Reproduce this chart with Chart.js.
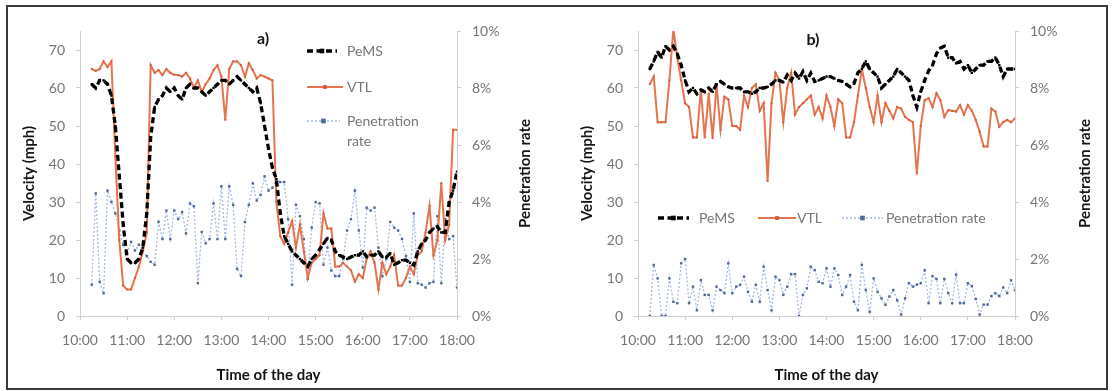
<!DOCTYPE html>
<html>
<head>
<meta charset="utf-8">
<script src="https://cdn.jsdelivr.net/npm/chart.js@4.4.1/dist/chart.umd.min.js"></script>
<style>
html,body{margin:0;padding:0;background:#fff;}
#wrap{position:relative;width:1115px;height:391px;overflow:hidden;background:#fff;}
#frame{position:absolute;left:6px;top:5px;width:1102px;height:385px;border:2px solid #3a3a3a;box-sizing:border-box;pointer-events:none;}
canvas{position:absolute;top:0;}
#cA{left:0;}
#cB{left:558px;}
</style>
</head>
<body>
<div id="wrap">
<canvas id="cA" width="557" height="391"></canvas>
<canvas id="cB" width="557" height="391"></canvas>
<div id="frame"></div>
</div>
<script>
// ---- data ----
const startMinute = 615;   // 10:15
const stepMinutes = 5;
const hourTicks = [600, 660, 720, 780, 840, 900, 960, 1020, 1080];
const hourLabels = ['10:00','11:00','12:00','13:00','14:00','15:00','16:00','17:00','18:00'];
const velocityTicks = [0, 10, 20, 30, 40, 50, 60, 70];
const rateTicks = [0, 2, 4, 6, 8, 10];
const seriesNames = ['PeMS', 'VTL', 'Penetration rate'];
const panelLabels = ['a)', 'b)'];
const axisTitles = {velocity: 'Velocity (mph)', rate: 'Penetration rate', time: 'Time of the day'};

// panel a) velocity (mph)
const pemsA = [61,60,62,62,61,58,50,37,24,15,
  14,14,15,18,27,47,55,57,58,60,
  59,60,58,57,60,61,60,60,59,58,
  59,60,61,62,62,61,62,63,62,61,
  60,59,60,56,50,44,39,36,27,21,
  19,17,16,15,14,13,15,16,17.5,19,
  20.5,20,17,16,15.5,15,15.5,16,16,17,
  15.6,16,16,17,15.5,15.5,16.5,13.5,14,14.7,
  14.7,14,13.4,17,19,20,22,23,23.5,22,
  22,30,33,38];
const vtlA = [65,64.5,65,67,65.5,67,42,20,8,7,
  7,10,13,17,22,66,64,64.7,63.4,65,
  64,63.5,63.4,63,64,62.5,60,62,59,61,
  62.5,64.7,66,63,51.6,65,67,67,66,63,
  66.5,64.7,62.5,63.4,63,62.5,62,30,21,19,
  22,25,18,24,17,10,14,15,16,27,
  23,23,13,13,14,13,12,9,11,10,
  15,17,14,7,14,11,13,16,8,8,
  10,13,11,16,17,22,29,16,20,35,
  20,24,49,49];
// panel a) penetration rate (%)
const rateA = [1.1,4.3,1.2,0.8,4.4,4.0,3.6,3.0,2.5,2.2,
  2.6,2.3,2.5,2.3,2.1,1.9,1.8,3.3,2.7,3.7,
  2.7,3.7,3.4,3.65,2.9,3.95,3.85,1.15,2.95,2.55,
  2.7,3.95,2.7,4.55,2.7,4.55,3.9,1.65,1.4,3.3,
  3.9,4.65,4.05,4.25,4.9,4.4,4.5,4.8,4.7,4.7,
  3.4,1.1,3.9,3.5,2.7,1.3,3.1,4.0,3.95,1.8,
  2.4,1.6,1.4,1.4,2.0,3.0,3.4,4.4,3.0,1.7,
  3.8,3.7,3.8,2.4,1.4,2.0,3.3,3.1,3.0,2.7,
  2.1,1.2,3.6,1.15,1.1,1.0,1.15,1.2,3.5,1.15,
  3.4,2.7,2.8,1.0];

// panel b) velocity (mph)
const pemsB = [65,67,69.5,68,71,70,71,69,66,62,
  59,60,58.5,59.5,59,60,59,61,61.7,61,
  60.3,60,60,60,59,59,58.5,59,60,60,
  60.3,61,62,62,61.5,63.4,62,63.9,62.5,64.3,
  62,63.9,61.7,62,62.5,63,63,62.5,62,61.7,
  61,60.3,61.2,64,65,67,65,64,63,60,
  61,62,63,65,64,63,62,58,55,59,
  62,64.5,66,69,70.5,71,68,68,66.5,67,
  65,66,64,65,66,66,67,67,68,66,
  63,65,65,65];
const vtlB = [61,63,51,51,51,62,75.5,68,62,56,
  55,47,47,59.5,47,58.6,46.8,61,49,57.7,
  57,50,50,49,58,55,60,61,54,56,
  35.5,56,64,62,51,60,64,53,55,56,
  57,58,53,55,52,58,55,50,57,56,
  47,47,51,58,65,60,55,51,58,51,
  56,54,52,55,54.6,52.4,51.6,51,37.5,50,
  56.8,57.3,55,58.6,56.8,52.4,54.2,54,53.8,55.5,
  53,55.5,54,51.6,48.5,44.6,44.6,54.6,53.8,49.8,
  51,51.6,51,52];
// panel b) penetration rate (%)
const rateB = [0,1.79,1.32,0,0,1.32,0.5,0.45,1.85,2.0,
  0.45,1.03,0.2,1.26,0.74,0.74,0.2,1.03,0.91,0.8,
  1.85,0.8,1.03,1.09,1.38,0.85,0.5,1.09,0.5,1.73,
  0.91,0.2,1.38,1.26,0.74,1.03,1.47,1.47,0,0.74,
  0.97,1.73,1.61,1.2,1.15,1.67,1.03,1.67,1.44,0.74,
  1.03,1.44,0.5,0.2,1.79,0.91,0.15,1.32,0.85,0.62,
  0.39,0.68,0.91,0.55,0.05,0.62,1.15,1.03,1.1,1.15,
  1.6,0.45,1.4,1.3,0.45,1.3,0.8,0.45,1.45,0.45,
  0.45,1.15,1.05,0.6,0.05,0.4,0.4,0.7,0.8,0.7,
  1.0,0.8,1.25,0.9];

const times = pemsA.map((_, i) => startMinute + i * stepMinutes);

// ---- styles ----
const FONT = 'Lato, "Open Sans", "DejaVu Sans", sans-serif';
const tickColor = '#767676';
const axisColor = '#cfcfcf';
const titleColor = '#151515';
const vtlColor = '#e5754f';
const rateLine = '#a3b8e0';
const rateMarker = '#4d6996';

const textPlugin = {
  id: 'panelText',
  afterDraw(chart, args, o) {
    const ctx = chart.ctx;
    const ca = chart.chartArea;
    const midY = (ca.top + ca.bottom) / 2;
    ctx.save();
    ctx.fillStyle = titleColor;
    ctx.font = 'bold 15px ' + FONT;
    ctx.textAlign = 'center';
    ctx.textBaseline = 'middle';
    ctx.save(); ctx.translate(o.leftTitleX, midY); ctx.rotate(-Math.PI / 2);
    ctx.fillText(axisTitles.velocity, 0, 0); ctx.restore();
    ctx.save(); ctx.translate(o.rightTitleX, midY); ctx.rotate(-Math.PI / 2);
    ctx.fillText(axisTitles.rate, 0, 0); ctx.restore();
    ctx.fillText(axisTitles.time, (ca.left + ca.right) / 2, o.timeTitleY);
    ctx.font = 'bold 16px ' + FONT;
    ctx.fillText(o.label, o.labelX, o.labelY);
    ctx.font = '14px ' + FONT;
    ctx.textAlign = 'left';
    o.legend.forEach(item => {
      const ds = chart.data.datasets[item.ds];
      ctx.save();
      ctx.strokeStyle = ds.borderColor;
      ctx.lineWidth = ds.borderWidth;
      ctx.setLineDash(ds.borderDash || []);
      ctx.beginPath(); ctx.moveTo(item.x1, item.y); ctx.lineTo(item.x2, item.y); ctx.stroke();
      ctx.setLineDash([]);
      ctx.fillStyle = ds.pointBackgroundColor;
      const r = ds.pointRadius + 0.6;
      const mx = (item.x1 + item.x2) / 2;
      ctx.fillRect(mx - r, item.y - r, 2 * r, 2 * r);
      ctx.restore();
      ctx.fillStyle = tickColor;
      item.text.forEach((t, k) => ctx.fillText(t, item.tx, item.y + k * 20));
    });
    ctx.restore();
  }
};

function buildPanel(id, pems, vtl, rate, leftW, rightW, textOpts) {
  const toPts = arr => arr.map((v, i) => ({x: times[i], y: v}));
  const tickFont = {family: FONT, size: 14};
  return new Chart(document.getElementById(id), {
    type: 'line',
    data: {
      datasets: [
        {label: seriesNames[0], data: toPts(pems), yAxisID: 'y', borderColor: '#000000',
         borderWidth: 3.3, borderDash: [6, 3.5], pointRadius: 1.7, pointStyle: 'rect',
         pointBorderWidth: 0, pointBackgroundColor: '#000000', tension: 0, order: 1},
        {label: seriesNames[1], data: toPts(vtl), yAxisID: 'y', borderColor: vtlColor,
         borderWidth: 2, pointRadius: 1.3, pointStyle: 'rect', pointBorderWidth: 0,
         pointBackgroundColor: '#d65a3a', tension: 0, order: 2},
        {label: seriesNames[2], data: toPts(rate), yAxisID: 'y2', borderColor: rateLine,
         borderWidth: 1.3, borderDash: [2, 2], pointRadius: 1.7, pointStyle: 'rect',
         pointBorderWidth: 0, pointBackgroundColor: rateMarker, tension: 0, order: 3}
      ]
    },
    options: {
      responsive: false, animation: false, devicePixelRatio: 1,
      layout: {padding: {top: 31, left: 0, right: 0, bottom: 0}},
      plugins: {legend: {display: false}, tooltip: {enabled: false}, panelText: textOpts},
      scales: {
        x: {
          type: 'linear', min: hourTicks[0], max: hourTicks[hourTicks.length - 1],
          afterBuildTicks: s => { s.ticks = hourTicks.map(v => ({value: v})); },
          afterFit: s => { s.height = 75; },
          ticks: {callback: v => hourLabels[hourTicks.indexOf(v)], font: tickFont, color: tickColor,
                  padding: 12, maxRotation: 0, autoSkip: false},
          grid: {drawOnChartArea: false, drawTicks: true, tickLength: 4, color: axisColor},
          border: {color: axisColor}
        },
        y: {
          type: 'linear', position: 'left', min: 0, max: 75,
          afterBuildTicks: s => { s.ticks = velocityTicks.map(v => ({value: v})); },
          afterFit: s => { s.width = leftW; },
          ticks: {font: tickFont, color: tickColor, padding: 11},
          grid: {drawOnChartArea: false, drawTicks: true, tickLength: 4, color: axisColor},
          border: {color: axisColor}
        },
        y2: {
          type: 'linear', position: 'right', min: 0, max: 10,
          afterBuildTicks: s => { s.ticks = rateTicks.map(v => ({value: v})); },
          afterFit: s => { s.width = rightW; },
          ticks: {font: tickFont, color: tickColor, padding: 11, callback: v => v + '%'},
          grid: {drawOnChartArea: false, drawTicks: true, tickLength: 4, color: axisColor},
          border: {color: axisColor}
        }
      }
    },
    plugins: [textPlugin]
  });
}

buildPanel('cA', pemsA, vtlA, rateA, 80, 100, {
  label: panelLabels[0], labelX: 263, labelY: 39,
  leftTitleX: 29, rightTitleX: 525, timeTitleY: 375,
  legend: [
    {ds: 0, x1: 307, x2: 337, y: 51, tx: 347, text: [seriesNames[0]]},
    {ds: 1, x1: 307, x2: 343, y: 87, tx: 347, text: [seriesNames[1]]},
    {ds: 2, x1: 307, x2: 340, y: 121, tx: 347, text: ['Penetration', 'rate']}
  ]
});
buildPanel('cB', pemsB, vtlB, rateB, 80, 100, {
  label: panelLabels[1], labelX: 255, labelY: 40,
  leftTitleX: 29, rightTitleX: 527, timeTitleY: 375,
  legend: [
    {ds: 0, x1: 100, x2: 131, y: 218, tx: 141, text: [seriesNames[0]]},
    {ds: 1, x1: 200, x2: 238, y: 218, tx: 239, text: [seriesNames[1]]},
    {ds: 2, x1: 284, x2: 325, y: 218, tx: 328, text: [seriesNames[2]]}
  ]
});
</script>
</body>
</html>
